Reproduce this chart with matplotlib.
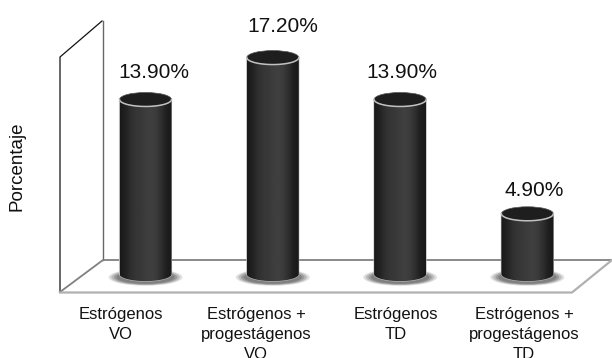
import numpy as np
import matplotlib
matplotlib.use('Agg')
import matplotlib.pyplot as plt
from matplotlib.patches import Ellipse, PathPatch
from matplotlib.path import Path

plt.rcParams['font.family'] = ['Liberation Sans', 'DejaVu Sans']

categorias = ['Estrógenos\nVO', 'Estrógenos +\nprogestágenos\nVO',
              'Estrógenos\nTD', 'Estrógenos +\nprogestágenos\nTD']
porcentajes = [13.9, 17.2, 13.9, 4.9]
etiquetas = ['13.90%', '17.20%', '13.90%', '4.90%']

# posicion en pixeles de los textos
x_etiquetas = [154, 283, 402, 534]
y_etiquetas = [72, 26, 72, 190]
x_categorias = [121, 256, 396, 524]

W, H = 612, 358
fig = plt.figure(figsize=(W / 100, H / 100), dpi=100)

# fondo en pixeles: pared y suelo del grafico 3D
bg = fig.add_axes([0, 0, 1, 1])
bg.set_xlim(0, W)
bg.set_ylim(H, 0)
bg.axis('off')
bg.plot([60, 60, 102], [292, 57, 21], color='#111111', lw=0.9)
bg.plot([102.5, 102.5], [21, 260], color='#666666', lw=1.0)
bg.plot([60, 103, 612], [292, 260, 260], color='#808080', lw=1.3)
bg.plot([60, 572, 612], [292.5, 292.5, 260], color='#b0b0b0', lw=1.6)

# ejes de datos: 12.7 px por punto porcentual, cero en y=276 px
px_val = 12.7
y0 = 276
sep = 127.3
x0 = 145.5
ax = fig.add_axes([0, 0, 1, 1])
ax.patch.set_alpha(0)
ax.set_xlim(-x0 / sep, (W - x0) / sep)
ax.set_ylim(-(H - y0) / px_val, y0 / px_val)
ax.axis('off')

ancho = 52 / sep
alto_elipse = 14 / px_val
gradiente = np.array([0.10, 0.13, 0.18, 0.21, 0.22, 0.24, 0.25, 0.23, 0.18, 0.12, 0.10])
gradiente = np.interp(np.linspace(0, 10, 120), np.arange(11), gradiente)[None, :]

for i, v in enumerate(porcentajes):
    izq, der = i - ancho / 2, i + ancho / 2

    # sombra difusa sobre el suelo
    for esc, a in zip([1.42, 1.32, 1.22, 1.12], [0.18, 0.25, 0.3, 0.35]):
        ax.add_patch(Ellipse((i, -0.1), ancho * esc, alto_elipse * esc * 0.85,
                             fc='#505050', ec='none', alpha=a, zorder=2))

    # cuerpo del cilindro con degradado
    t = np.linspace(np.pi, 2 * np.pi, 40)
    xs = i + ancho / 2 * np.cos(t)
    ys = 0.15 + alto_elipse / 2 * np.sin(t)
    vert = [(izq, v)] + list(zip(xs, ys)) + [(der, v), (izq, v)]
    cuerpo = Path(vert)
    ax.add_patch(PathPatch(cuerpo, fc='none', ec='#b8b8b8', lw=0.8, zorder=3))
    im = ax.imshow(gradiente, extent=[izq, der, -1.2, v], aspect='auto', cmap='gray',
                   vmin=0, vmax=1, zorder=4, interpolation='bilinear')
    im.set_clip_path(PathPatch(cuerpo, transform=ax.transData))

    # tapa superior, con el borde claro solo en la parte delantera
    ax.add_patch(Ellipse((i, v), ancho, alto_elipse, fc='#1e1e1e', ec='#555555',
                         lw=0.5, zorder=5))
    ax.plot(i + ancho / 2 * np.cos(t), v + alto_elipse / 2 * np.sin(t),
            color='#c0c0c0', lw=1.1, zorder=6)

    bg.text(x_etiquetas[i], y_etiquetas[i], etiquetas[i], ha='center', va='center',
            fontsize=15, color='#111111', zorder=7)

ax.set_xlim(-x0 / sep, (W - x0) / sep)
ax.set_ylim(-(H - y0) / px_val, y0 / px_val)

# categorias bajo el suelo
for xc, c in zip(x_categorias, categorias):
    bg.text(xc, 307, c, ha='center', va='top', fontsize=12,
            color='#111111', linespacing=1.4)

bg.text(17, 166, 'Porcentaje', rotation=90, ha='center', va='center',
        fontsize=13.5, color='#111111')

fig.savefig('out.png', dpi=100)
